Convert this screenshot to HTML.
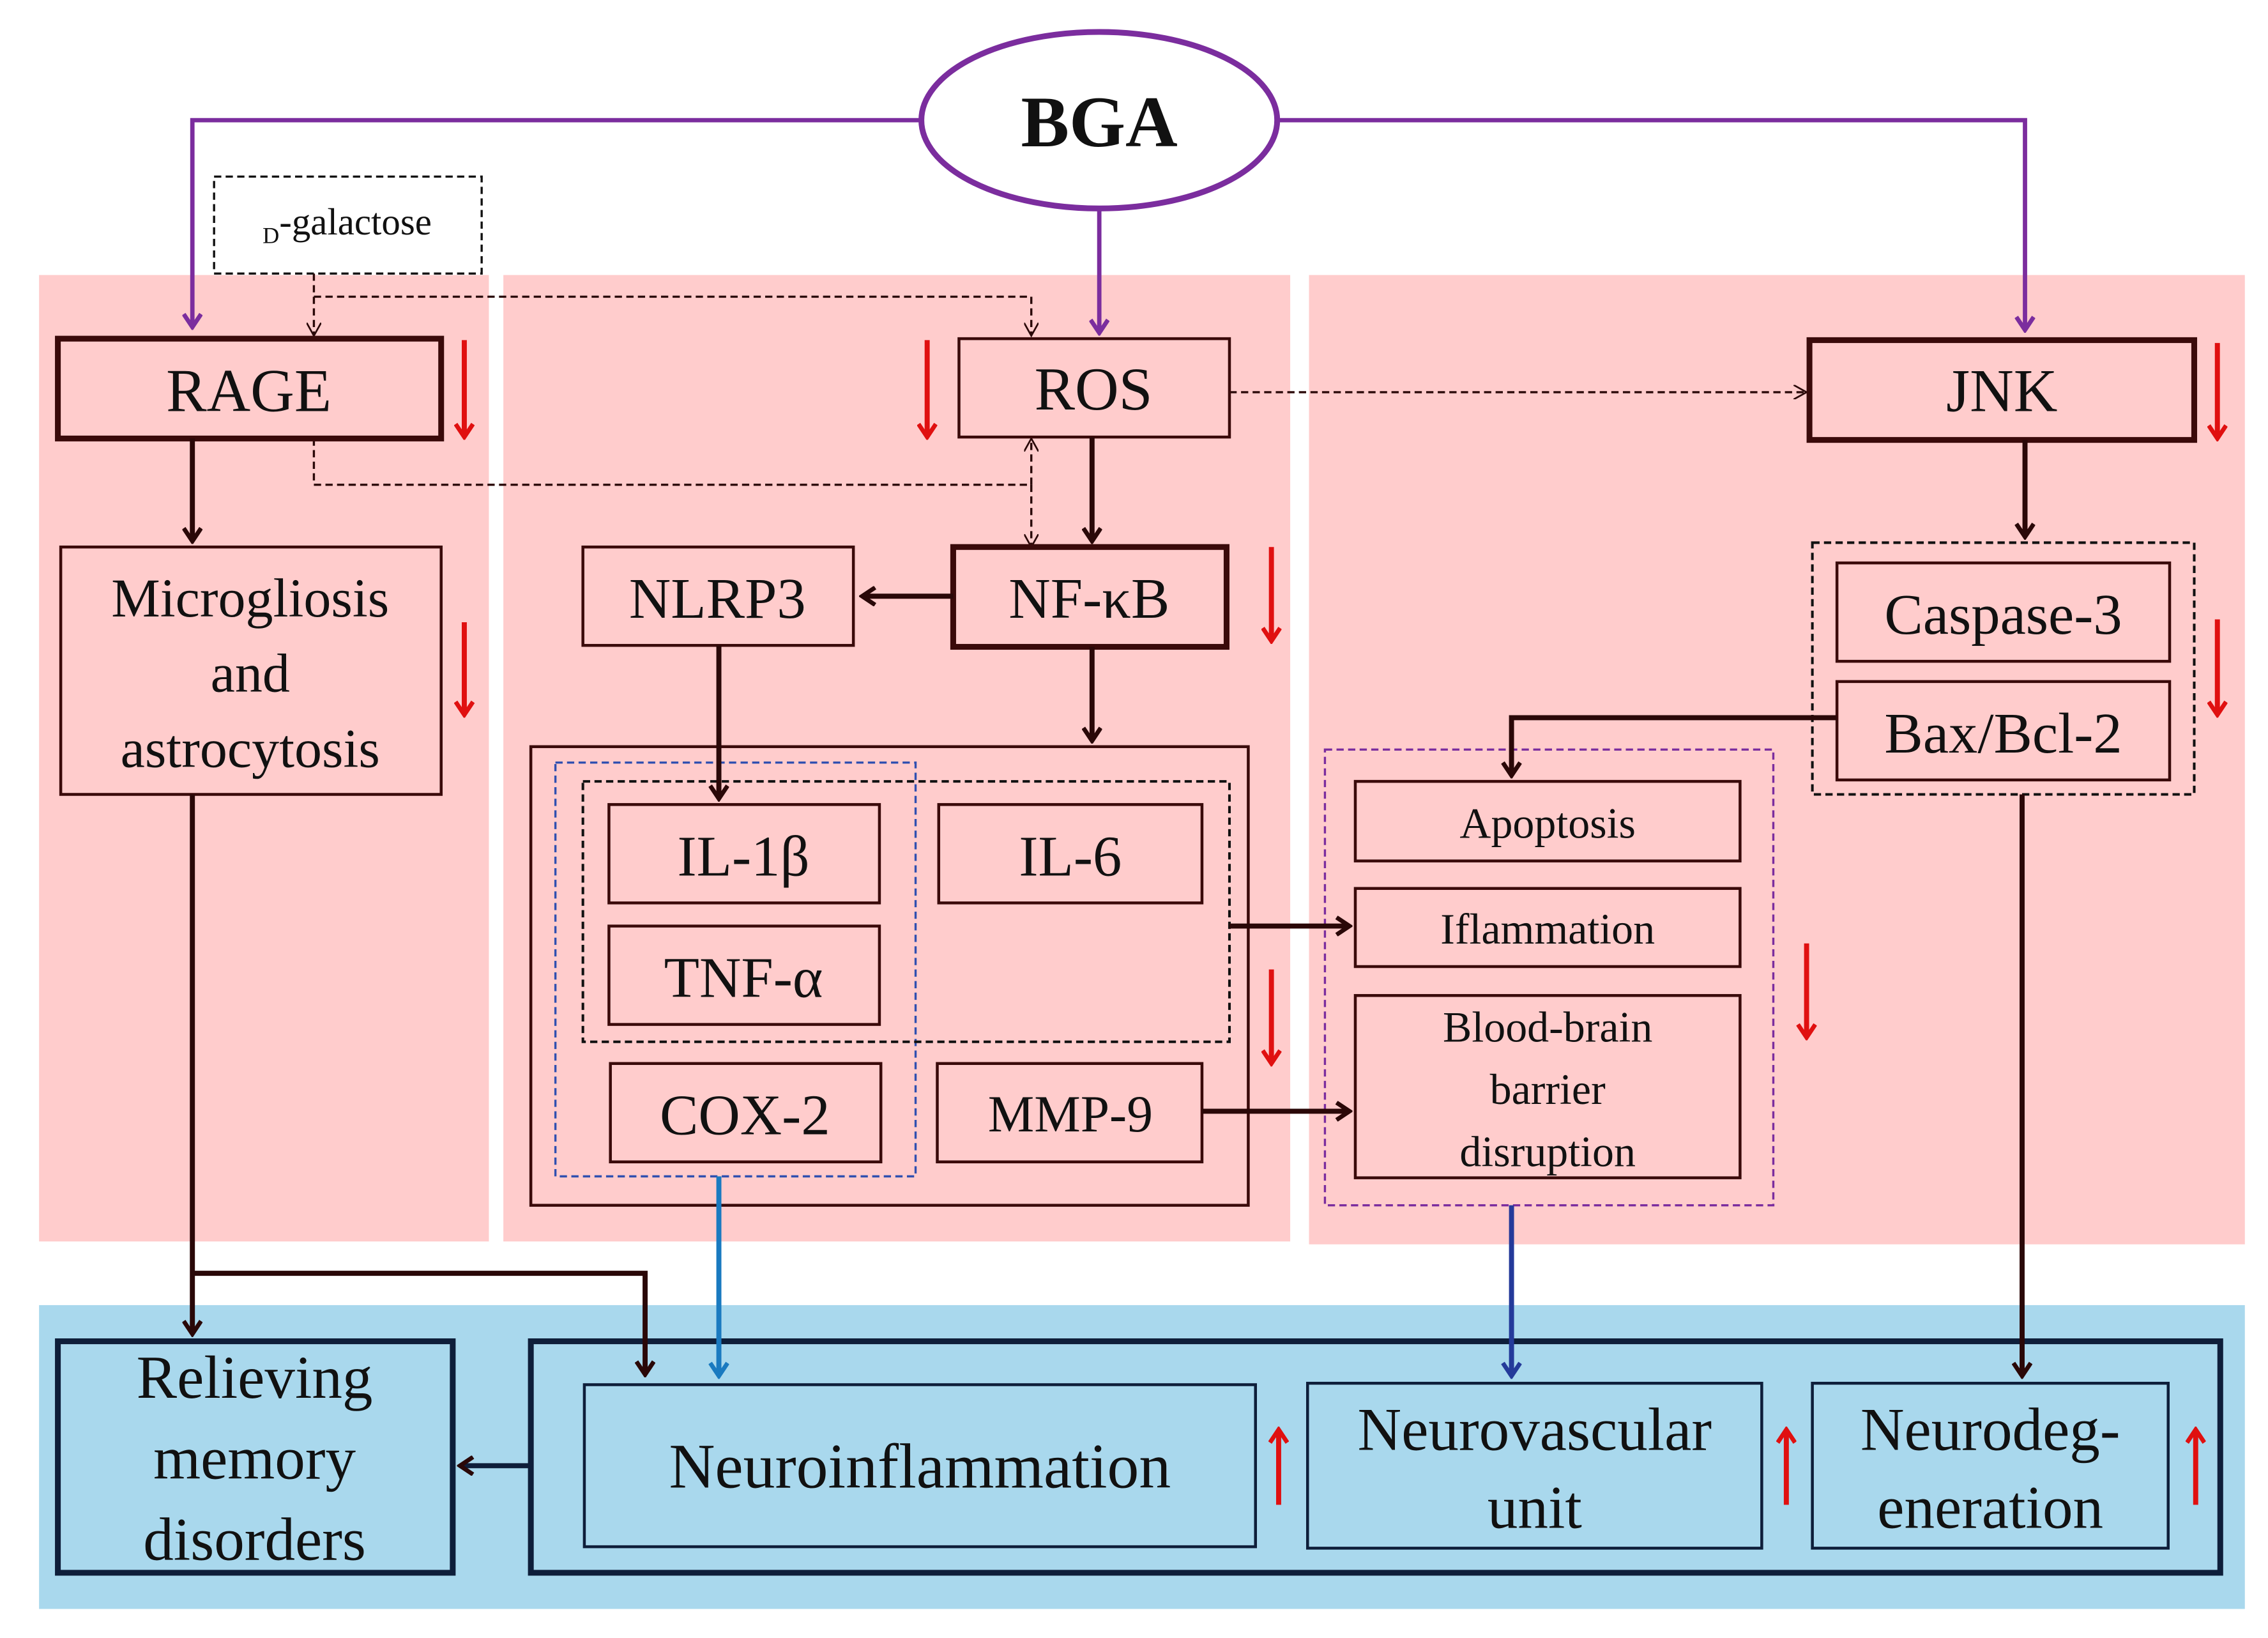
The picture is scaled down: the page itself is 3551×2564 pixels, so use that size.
<!DOCTYPE html>
<html><head><meta charset="utf-8"><style>
html,body{margin:0;padding:0;background:#fff}
svg{display:block}
text{font-family:"Liberation Serif",serif;fill:#111;text-anchor:middle}
</style></head><body>
<svg width="3551" height="2564" viewBox="0 0 1568 1132" xmlns="http://www.w3.org/2000/svg">
<defs>
<marker id="ad" markerWidth="12" markerHeight="14" refX="10" refY="7" orient="auto" markerUnits="userSpaceOnUse"><path d="M1,1 L10,7 L1,13" fill="none" stroke="#2a0808" stroke-width="3"/></marker>
<marker id="ap" markerWidth="12" markerHeight="14" refX="10" refY="7" orient="auto" markerUnits="userSpaceOnUse"><path d="M1,1 L10,7 L1,13" fill="none" stroke="#7b2d9e" stroke-width="3"/></marker>
<marker id="ab" markerWidth="12" markerHeight="14" refX="10" refY="7" orient="auto" markerUnits="userSpaceOnUse"><path d="M1,1 L10,7 L1,13" fill="none" stroke="#1a7ac0" stroke-width="3"/></marker>
<marker id="an" markerWidth="12" markerHeight="14" refX="10" refY="7" orient="auto" markerUnits="userSpaceOnUse"><path d="M1,1 L10,7 L1,13" fill="none" stroke="#243a9a" stroke-width="3"/></marker>
<marker id="at" markerWidth="10" markerHeight="10" refX="8" refY="5" orient="auto" markerUnits="userSpaceOnUse"><path d="M0,0 L9,5 L0,10" fill="none" stroke="#2a0808" stroke-width="1.2"/></marker>
<marker id="ar" markerWidth="12" markerHeight="14" refX="10" refY="7" orient="auto" markerUnits="userSpaceOnUse"><path d="M1,1 L10,7 L1,13" fill="none" stroke="#e01010" stroke-width="3"/></marker>
</defs>
<rect x="27" y="190" width="311" height="668" fill="#ffcccc"/>
<rect x="348" y="190" width="544" height="668" fill="#ffcccc"/>
<rect x="905" y="190" width="647" height="670" fill="#ffcccc"/>
<rect x="27" y="902" width="1525" height="210" fill="#a9d8ed"/>

<ellipse cx="760" cy="83" rx="123" ry="61" fill="#fff" stroke="#7b2d9e" stroke-width="4"/>
<text x="760" y="101" font-size="50" font-weight="bold">BGA</text>
<g stroke="#7b2d9e" stroke-width="3" fill="none">
<path d="M637,83 H133 V226" marker-end="url(#ap)"/>
<path d="M884,83 H1400 V228" marker-end="url(#ap)"/>
<path d="M760,145 V230" marker-end="url(#ap)"/>
</g>

<rect x="148" y="122" width="185" height="67" fill="#fff" stroke="#111" stroke-width="1.5" stroke-dasharray="5,3"/>
<text x="240" y="162" font-size="26"><tspan font-size="16" dy="6">D</tspan><tspan dy="-6">-galactose</tspan></text>

<g stroke="#2a0808" stroke-width="1.5" fill="none" stroke-dasharray="5,3">
<path d="M217,189 V231" marker-end="url(#at)"/>
<path d="M217,205 H713 V231" marker-end="url(#at)"/>
<path d="M850,271 H1248" marker-end="url(#at)"/>
<path d="M217,303 V335 H713 V304" marker-end="url(#at)"/>
<path d="M713,335 V377" marker-end="url(#at)"/>
</g>

<g fill="none" stroke="#3a0a0a">
<rect x="40" y="234" width="265" height="69" stroke-width="4"/>
<rect x="663" y="234" width="187" height="68" stroke-width="2"/>
<rect x="1251" y="235" width="266" height="69" stroke-width="4"/>
<rect x="42" y="378" width="263" height="171" stroke-width="2"/>
<rect x="403" y="378" width="187" height="68" stroke-width="2"/>
<rect x="659" y="378" width="189" height="69" stroke-width="4"/>
<rect x="1253" y="375" width="264" height="174" stroke-width="1.8" stroke="#111" stroke-dasharray="5,3"/>
<rect x="1270" y="389" width="230" height="68" stroke-width="2"/>
<rect x="1270" y="471" width="230" height="68" stroke-width="2"/>
<rect x="367" y="516" width="496" height="317" stroke-width="2"/>
<rect x="384" y="527" width="249" height="286" stroke-width="1.5" stroke="#3050b0" stroke-dasharray="5,3"/>
<rect x="403" y="540" width="447" height="180" stroke-width="1.8" stroke="#111" stroke-dasharray="5,3"/>
<rect x="421" y="556" width="187" height="68" stroke-width="2"/>
<rect x="649" y="556" width="182" height="68" stroke-width="2"/>
<rect x="421" y="640" width="187" height="68" stroke-width="2"/>
<rect x="422" y="735" width="187" height="68" stroke-width="2"/>
<rect x="648" y="735" width="183" height="68" stroke-width="2"/>
<rect x="916" y="518" width="310" height="315" stroke-width="1.5" stroke="#7b2d9e" stroke-dasharray="5,3"/>
<rect x="937" y="540" width="266" height="55" stroke-width="2"/>
<rect x="937" y="614" width="266" height="54" stroke-width="2"/>
<rect x="937" y="688" width="266" height="126" stroke-width="2"/>
</g>
<g fill="none" stroke="#0e1e3a">
<rect x="40" y="927" width="273" height="160" stroke-width="4"/>
<rect x="367" y="927" width="1168" height="160" stroke-width="4"/>
<rect x="404" y="957" width="464" height="112" stroke-width="2"/>
<rect x="904" y="956" width="314" height="114" stroke-width="2"/>
<rect x="1253" y="956" width="246" height="114" stroke-width="2"/>
</g>

<text x="172" y="284" font-size="42">RAGE</text>
<text x="756" y="283" font-size="42">ROS</text>
<text x="1384" y="284" font-size="42">JNK</text>
<text x="173" y="426" font-size="38">Microgliosis</text>
<text x="173" y="478" font-size="38">and</text>
<text x="173" y="530" font-size="38">astrocytosis</text>
<text x="496" y="427" font-size="40">NLRP3</text>
<text x="753" y="427" font-size="40">NF-κB</text>
<text x="1385" y="438" font-size="40">Caspase-3</text>
<text x="1385" y="520" font-size="40">Bax/Bcl-2</text>
<text x="514" y="605" font-size="40">IL-1β</text>
<text x="740" y="605" font-size="40">IL-6</text>
<text x="514" y="689" font-size="40">TNF-α</text>
<text x="515" y="784" font-size="40">COX-2</text>
<text x="740" y="782" font-size="36">MMP-9</text>
<text x="1070" y="579" font-size="30">Apoptosis</text>
<text x="1070" y="652" font-size="30">Iflammation</text>
<text x="1070" y="720" font-size="30">Blood-brain</text>
<text x="1070" y="763" font-size="30">barrier</text>
<text x="1070" y="806" font-size="30">disruption</text>
<text x="176" y="966" font-size="42">Relieving</text>
<text x="176" y="1022" font-size="42">memory</text>
<text x="176" y="1078" font-size="42">disorders</text>
<text x="636" y="1028" font-size="44">Neuroinflammation</text>
<text x="1061" y="1002" font-size="42">Neurovascular</text>
<text x="1061" y="1056" font-size="42">unit</text>
<text x="1376" y="1002" font-size="42">Neurodeg-</text>
<text x="1376" y="1056" font-size="42">eneration</text>

<g stroke="#2a0808" stroke-width="3.5" fill="none">
<path d="M133,303 V374" marker-end="url(#ad)"/>
<path d="M1400,304 V371" marker-end="url(#ad)"/>
<path d="M755,302 V374" marker-end="url(#ad)"/>
<path d="M659,412 H596" marker-end="url(#ad)"/>
<path d="M497,446 V552" marker-end="url(#ad)"/>
<path d="M755,447 V512" marker-end="url(#ad)"/>
<path d="M1270,496 H1045 V536" marker-end="url(#ad)"/>
<path d="M850,640 H933" marker-end="url(#ad)"/>
<path d="M831,768 H933" marker-end="url(#ad)"/>
<path d="M133,549 V922" marker-end="url(#ad)"/>
<path d="M133,880 H446 V950" marker-end="url(#ad)"/>
<path d="M1398,549 V951" marker-end="url(#ad)"/>
<path d="M367,1013 H318" marker-end="url(#ad)" stroke="#0e1e3a"/>
</g>
<path d="M497,813 V951" stroke="#1a7ac0" stroke-width="3.5" fill="none" marker-end="url(#ab)"/>
<path d="M1045,833 V951" stroke="#243a9a" stroke-width="3.5" fill="none" marker-end="url(#an)"/>

<g stroke="#e01010" stroke-width="3.5" fill="none">
<path d="M321,235 V302" marker-end="url(#ar)"/>
<path d="M641,235 V302" marker-end="url(#ar)"/>
<path d="M879,378 V443" marker-end="url(#ar)"/>
<path d="M321,430 V494" marker-end="url(#ar)"/>
<path d="M1533,237 V303" marker-end="url(#ar)"/>
<path d="M1533,428 V494" marker-end="url(#ar)"/>
<path d="M879,670 V735" marker-end="url(#ar)"/>
<path d="M1249,652 V717" marker-end="url(#ar)"/>
<path d="M884,1040 V988" marker-end="url(#ar)"/>
<path d="M1235,1040 V988" marker-end="url(#ar)"/>
<path d="M1518,1040 V988" marker-end="url(#ar)"/>
</g>
</svg>
</body></html>
